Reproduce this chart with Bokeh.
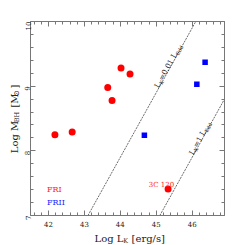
import math
from bokeh.plotting import figure
from bokeh.models import (Range1d, FixedTicker, Label, Legend, LegendItem,
                          LinearAxis, CustomJSTickFormatter)
from bokeh.embed import file_html
from bokeh.resources import INLINE

# ---- data ----
fri_logL = [44.02, 44.27, 43.65, 43.77, 42.18, 42.66, 45.33]
fri_logM = [9.28, 9.19, 8.98, 8.78, 8.25, 8.29, 7.41]
frii_logL = [46.36, 46.13, 44.67]
frii_logM = [9.37, 9.03, 8.24]
edd001_x = [43.1, 46.1]
edd001_y = [7.0, 10.0]
edd1_x = [45.1, 46.9]
edd1_y = [7.0, 8.8]
x_ticks = [42, 43, 44, 45, 46]
y_ticks = [7, 8, 9, 10]

FONT = "DejaVu Serif"
X0, X1 = 41.5, 46.9
Y0, Y1 = 7.0, 10.0
FL, FT, FW, FH = 30.0, 21.0, 194.0, 194.0  # frame in page px


def px2d(px, py):
    return (X0 + (px - FL) / FW * (X1 - X0), Y1 - (py - FT) / FH * (Y1 - Y0))


W = {"L": 0.637, "o": 0.602, "g": 0.640, " ": 0.318, "M": 0.873, "B": 0.732,
     "H": 0.837, "K": 0.753, "[": 0.390, "]": 0.390, "e": 0.592, "r": 0.478,
     "/": 0.337, "s": 0.513, "=": 0.838, "0": 0.636, ".": 0.318, "1": 0.636,
     "E": 0.730, "d": 0.640, "\u2299": 0.85, "\u2002": 0.5}


def tw(t, s):
    return sum(W.get(c, 0.6) for c in t) * s


p = figure(width=245, height=245, output_backend="svg", toolbar_location=None,
           x_range=Range1d(X0, X1), y_range=Range1d(Y0, Y1),
           min_border_left=30, min_border_right=21, min_border_top=21,
           min_border_bottom=30)
p.outline_line_color = None
p.xgrid.visible = False
p.ygrid.visible = False
p.background_fill_color = "white"
p.border_fill_color = "white"

x_minor = [round(41.6 + 0.2 * i, 2) for i in range(27)]
y_minor = [round(7.0 + 0.2 * i, 2) for i in range(16)]
AX = "#777777"


def style(ax, ticks, minor, labels=True):
    ax.ticker = FixedTicker(ticks=ticks, minor_ticks=minor)
    ax.axis_line_color = AX
    ax.major_tick_line_color = AX
    ax.minor_tick_line_color = AX
    ax.major_tick_in = 5
    ax.major_tick_out = 0
    ax.minor_tick_in = 3
    ax.minor_tick_out = 0
    ax.major_label_text_font = FONT
    ax.major_label_text_font_size = "7px"
    ax.major_label_text_color = "#222222"
    if not labels:
        ax.formatter = CustomJSTickFormatter(code="return ''")
        ax.major_label_standoff = 0
        ax.major_label_text_font_size = "1px"


style(p.xaxis[0], x_ticks, x_minor)
style(p.yaxis[0], y_ticks, y_minor)
p.xaxis[0].major_label_standoff = 5
p.yaxis[0].major_label_standoff = 3
p.yaxis[0].major_label_orientation = math.pi / 2

top = LinearAxis()
style(top, x_ticks, x_minor, labels=False)
p.add_layout(top, "above")
right = LinearAxis()
style(right, y_ticks, y_minor, labels=False)
p.add_layout(right, "right")

# Eddington lines
p.line(edd001_x, edd001_y, line_color="#444444", line_width=0.8, line_dash="2 1")
p.line(edd1_x, edd1_y, line_color="#444444", line_width=0.8, line_dash="2 1")

# data
r_fri = p.scatter(fri_logL, fri_logM, marker="circle", size=7, fill_color="#ff0000",
                  line_color=None)
r_frii = p.scatter(frii_logL, frii_logM, marker="square", size=5.5, fill_color="#0000ff",
                   line_color=None)

# legend renderers (empty)
lg_fri = p.scatter(x=[], y=[], marker="circle", fill_color="#ff0000", line_color=None)
lg_frii = p.scatter(x=[], y=[], marker="square", fill_color="#0000ff", line_color=None)
for rend, lab, col, yy in [(lg_fri, "FRI", "#ff2222", 21), (lg_frii, "FRII", "#2222ff", 8)]:
    lg = Legend(items=[LegendItem(label=lab, renderers=[rend])], location=(7, yy),
                glyph_width=8, glyph_height=8, label_height=8, label_width=10,
                padding=0, margin=0, spacing=0, label_standoff=2,
                border_line_color=None, background_fill_alpha=0,
                label_text_font=FONT, label_text_font_size="8px",
                label_text_color=col)
    p.add_layout(lg)


def put(text, px, py, size, angle, color, place="center"):
    x, y = px2d(px, py)
    lab = Label(x=x, y=y, text=text, angle=angle, text_font=FONT,
                text_font_size=f"{size}px", text_color=color,
                text_baseline="alphabetic", text_align="left")
    p.add_layout(lab, place)


def rich(pieces, sx, sy, angle, color):
    c, s = math.cos(angle), math.sin(angle)
    u = (c, -s)
    n = (-s, -c)
    pos = 0.0
    for text, size, sub in pieces:
        d = 2.0 if sub else 0.0
        put(text, sx + pos * u[0] - d * n[0], sy + pos * u[1] - d * n[1],
            size, angle, color)
        pos += tw(text, size)


ang = math.atan2(64.67, 35.93)
rich([("L", 7.5, False), ("K", 5, True), ("=0.01 L", 7.5, False), ("Edd", 5, True)],
     155.9, 86.8, ang, "#111111")
rich([("L", 7.5, False), ("K", 5, True), ("=1 L", 7.5, False), ("Edd", 5, True)],
     190.5, 153.8, ang, "#111111")

# x-axis label: main text in the bottom panel, subscript in the top panel
EN = "\u2002"
xmain = "Log L" + EN + " [erg/s]"
xw = tw(xmain, 10)
x_start = 129 - xw / 2
put(xmain, x_start, 238, 10, 0.0, "#222222", place="below")
put("K", x_start + tw("Log L", 10) + 0.3, 240, 6.5, 0.0, "#222222", place="above")

# y-axis label: main text in the left panel, subscripts in the right panel
ymain = "Log M" + EN + EN + " [M" + EN + "]"
yw = tw(ymain, 10)
y_start = 120 + yw / 2
YB = 14
put(ymain, YB, y_start, 10, math.pi / 2, "#222222", place="left")
o1 = tw("Log M", 10) + 0.3
put("BH", YB + 2, y_start - o1, 6.5, math.pi / 2, "#222222", place="right")
o2 = tw("Log M" + EN + EN + " [M", 10) + 0.1
put("\u2299", YB + 2, y_start - o2, 7.5, math.pi / 2, "#222222", place="right")

# 3C 120 annotation
x, y = px2d(161, 184)
p.add_layout(Label(x=x, y=y, text="3C 120", text_font=FONT, text_font_size="7px",
                   text_color="#ff2222", text_align="center",
                   text_baseline="alphabetic"))

open("out.html", "w").write(file_html(p, INLINE))
